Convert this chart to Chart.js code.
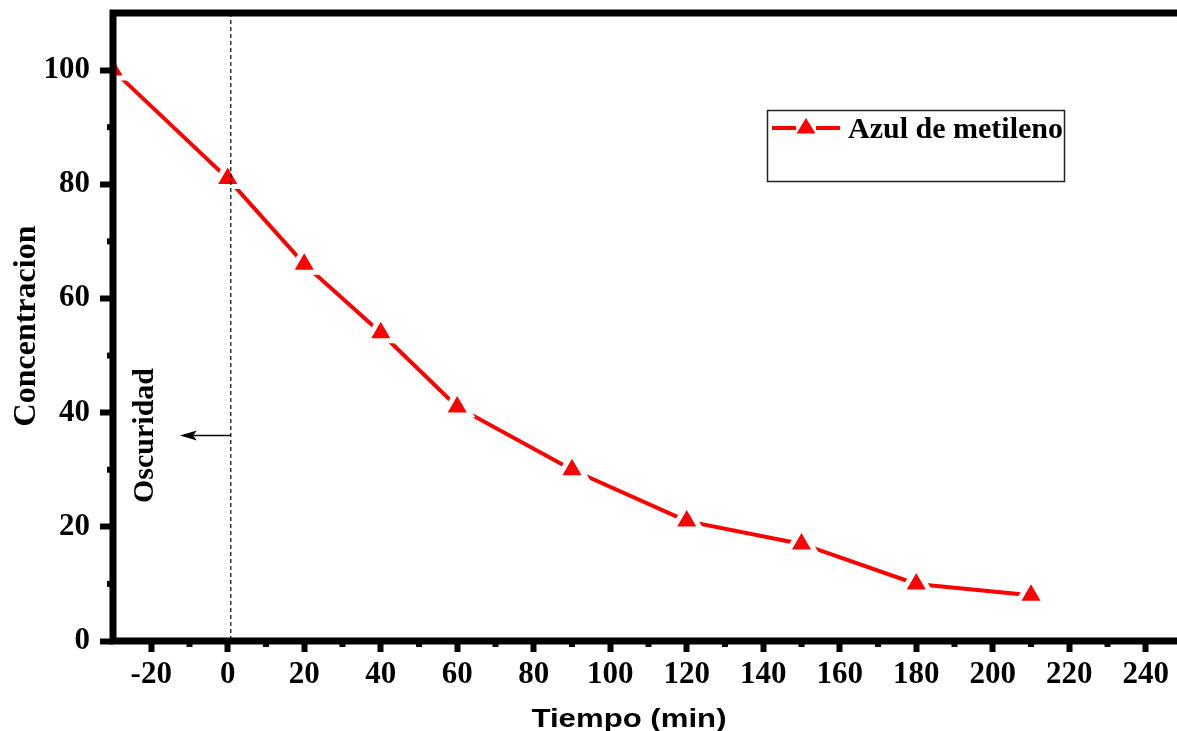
<!DOCTYPE html>
<html><head><meta charset="utf-8">
<script src="https://cdn.jsdelivr.net/npm/chart.js@4.4.1/dist/chart.umd.min.js"></script>
<style>html,body{margin:0;padding:0;overflow:hidden;background:#fff;width:1177px;height:731px}canvas{display:block}</style>
</head><body>
<canvas id="c" width="1200" height="731" style="width:1200px;height:731px"></canvas>
<script>
// ---- data ----
const timeMin = [-30, 0, 20, 40, 60, 90, 120, 150, 180, 210];
const concentration = [100, 81, 66, 54, 41, 30, 21, 17, 10, 8];
const xTickValues = [-20, 0, 20, 40, 60, 80, 100, 120, 140, 160, 180, 200, 220, 240];
const xMinorTickValues = [-10, 10, 30, 50, 70, 90, 110, 130, 150, 170, 190, 210, 230];
const yTickValues = [0, 20, 40, 60, 80, 100];
const yMinorTickValues = [10, 30, 50, 70, 90];
const seriesLabel = 'Azul de metileno';
const xTitle = 'Tiempo (min)';
const yTitle = 'Concentracion';
const darkLabel = 'Oscuridad';
const darkLineX = 0.8;
const arrowFrom = [0.8, 36];
const arrowTo = [-12.5, 36];
const darkLabelPos = [-21.5, 36];

const RED = '#ff0000';
const serif = 'Liberation Serif';
const sans = 'Liberation Sans';

const decor = {
  id: 'decor',
  afterDatasetsDraw(chart) {
    const { ctx, chartArea: a, scales: { x, y } } = chart;
    ctx.save();
    // dashed vertical line
    ctx.strokeStyle = '#000';
    ctx.lineWidth = 1.2;
    ctx.setLineDash([4, 3]);
    const dx = x.getPixelForValue(darkLineX);
    ctx.beginPath(); ctx.moveTo(dx, a.top); ctx.lineTo(dx, a.bottom); ctx.stroke();
    ctx.setLineDash([]);
    // arrow
    const ax1 = x.getPixelForValue(arrowFrom[0]);
    const ay = y.getPixelForValue(arrowFrom[1]);
    const ax2 = x.getPixelForValue(arrowTo[0]);
    ctx.lineWidth = 1.5;
    ctx.beginPath(); ctx.moveTo(ax1, ay); ctx.lineTo(ax2 + 10, ay); ctx.stroke();
    ctx.fillStyle = '#000';
    ctx.beginPath();
    ctx.moveTo(ax2, ay); ctx.lineTo(ax2 + 17, ay - 5); ctx.lineTo(ax2 + 13, ay); ctx.lineTo(ax2 + 17, ay + 5);
    ctx.closePath(); ctx.fill();
    // Oscuridad label
    ctx.save();
    ctx.translate(x.getPixelForValue(darkLabelPos[0]), y.getPixelForValue(darkLabelPos[1]));
    ctx.rotate(-Math.PI / 2);
    ctx.font = `bold 30px "${serif}"`;
    ctx.textAlign = 'center'; ctx.textBaseline = 'middle';
    ctx.fillText(darkLabel, 0, 0);
    ctx.restore();
    // frame
    ctx.strokeStyle = '#000';
    ctx.lineWidth = 7;
    ctx.lineCap = 'square';
    ctx.strokeRect(a.left, a.top, a.right - a.left, a.bottom - a.top);
    // minor ticks
    ctx.lineWidth = 6; ctx.lineCap = 'butt';
    xMinorTickValues.forEach(v => {
      const px = x.getPixelForValue(v);
      ctx.beginPath(); ctx.moveTo(px, a.bottom); ctx.lineTo(px, a.bottom + 6); ctx.stroke();
    });
    yMinorTickValues.forEach(v => {
      const py = y.getPixelForValue(v);
      ctx.beginPath(); ctx.moveTo(a.left, py); ctx.lineTo(a.left - 6, py); ctx.stroke();
    });
    // legend
    ctx.lineWidth = 1.5; ctx.strokeStyle = '#222';
    ctx.strokeRect(767.5, 110.5, 297, 71);
    ctx.strokeStyle = RED; ctx.lineWidth = 4;
    ctx.beginPath(); ctx.moveTo(772, 128); ctx.lineTo(796, 128); ctx.moveTo(816, 128); ctx.lineTo(840, 128); ctx.stroke();
    ctx.fillStyle = RED;
    ctx.beginPath(); ctx.moveTo(806, 118); ctx.lineTo(815.5, 133.5); ctx.lineTo(796.5, 133.5); ctx.closePath(); ctx.fill();
    ctx.fillStyle = '#000';
    ctx.font = `bold 30px "${serif}"`;
    ctx.textAlign = 'left'; ctx.textBaseline = 'alphabetic';
    ctx.fillText(seriesLabel, 848, 138);
    // axis titles
    ctx.save();
    ctx.translate(27, 326); ctx.rotate(-Math.PI / 2);
    ctx.font = `bold 32px "${serif}"`;
    ctx.textAlign = 'center'; ctx.textBaseline = 'middle';
    ctx.fillText(yTitle, 0, 0);
    ctx.restore();
    ctx.save();
    ctx.font = `bold 26px "${sans}"`;
    const w = ctx.measureText(xTitle).width;
    ctx.translate(629, 727);
    ctx.scale(195 / w, 1);
    ctx.textAlign = 'center'; ctx.textBaseline = 'alphabetic';
    ctx.fillText(xTitle, 0, 0);
    ctx.restore();
    ctx.restore();
  }
};

const noPad = s => { s.paddingTop = 0; s.paddingBottom = 0; s.paddingLeft = 0; s.paddingRight = 0; };

new Chart(document.getElementById('c'), {
  type: 'line',
  data: {
    datasets: [{
      label: seriesLabel,
      data: timeMin.map((t, i) => ({ x: t, y: concentration[i] })),
      borderColor: RED,
      borderWidth: 4,
      tension: 0,
      pointStyle: 'triangle',
      pointRadius: 16,
      pointBackgroundColor: RED,
      pointBorderColor: '#fff',
      pointBorderWidth: 5
    }]
  },
  options: {
    animation: false,
    responsive: false,
    devicePixelRatio: 1,
    layout: { autoPadding: false, padding: { top: 13, right: 16, left: 0, bottom: 0 } },
    plugins: { legend: { display: false }, tooltip: { enabled: false } },
    scales: {
      x: {
        type: 'linear', min: -30, max: 250,
        afterBuildTicks: s => { s.ticks = xTickValues.map(v => ({ value: v })); },
        afterFit: s => { s.height = 90; noPad(s); },
        border: { display: false },
        grid: { drawOnChartArea: false, drawTicks: true, tickLength: 11, tickWidth: 6, tickColor: '#000' },
        ticks: { color: '#000', font: { family: serif, weight: 'bold', size: 31 }, padding: 4, maxRotation: 0, autoSkip: false, callback: v => String(v) }
      },
      y: {
        type: 'linear', min: 0, max: 110,
        afterBuildTicks: s => { s.ticks = yTickValues.map(v => ({ value: v })); },
        afterFit: s => { s.width = 113; noPad(s); },
        border: { display: false },
        grid: { drawOnChartArea: false, drawTicks: true, tickLength: 13, tickWidth: 6, tickColor: '#000' },
        ticks: { color: '#000', font: { family: serif, weight: 'bold', size: 31 }, padding: 10, autoSkip: false, callback: v => String(v) }
      }
    }
  },
  plugins: [decor]
});
</script>
</body></html>
